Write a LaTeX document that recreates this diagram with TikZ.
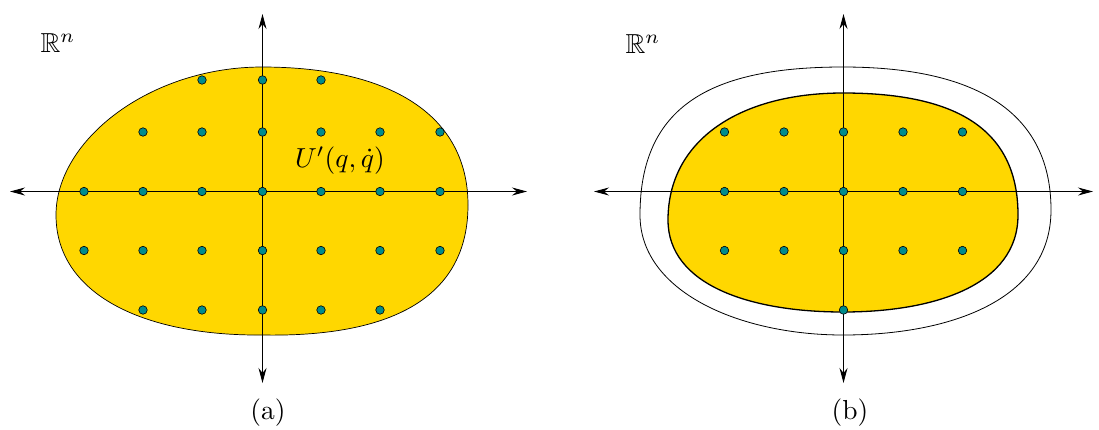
\documentclass[tikz,border=0pt]{standalone}
\usepackage{amssymb}
\usetikzlibrary{arrows.meta}
\definecolor{regiongold}{RGB}{255,215,0}
\definecolor{dotteal}{RGB}{0,140,140}
\tikzset{
  axis/.style={line width=1pt,-{Stealth[length=15pt,width=8pt,inset=5pt]}},
  lattice/.style={circle,fill=dotteal,draw=black,line width=0.6pt,inner sep=0pt,minimum size=8.5pt},
  label/.style={scale=2.75,inner sep=0pt},
  region/.style={fill=regiongold,draw=black,line width=0.7pt},
  innerregion/.style={fill=regiongold,draw=black,line width=1.3pt},
  outerregion/.style={draw=black,line width=0.8pt}
}
\begin{document}
\begin{tikzpicture}[x=1pt,y=-1pt]
\useasboundingbox (0,0) rectangle (1099,429);
% ---------- (a) ----------
\path[region] (262,67) .. controls (390,67) and (468,115) .. (468,205)
  .. controls (468,310) and (370,337) .. (262,335)
  .. controls (145,336) and (56,295) .. (56,215)
  .. controls (56,140) and (150,67) .. (262,67) -- cycle;
\coordinate (aL) at (262.5,191.5);
\coordinate (aW) at (10,191.5);
\coordinate (aE) at (527,191.5);
\coordinate (aN) at (262.5,14);
\coordinate (aS) at (262.5,383);
\draw[axis] (aL) -- (aW);
\draw[axis] (aL) -- (aE);
\draw[axis] (aL) -- (aN);
\draw[axis] (aL) -- (aS);
\foreach \x in {202,262.5,321} \node[lattice] at (\x,80) {};
\foreach \x in {143,202,262.5,321,380,440} \node[lattice] at (\x,132) {};
\foreach \x in {84,143,202,262.5,321,380,440} \node[lattice] at (\x,191.5) {};
\foreach \x in {84,143,202,262.5,321,380,440} \node[lattice] at (\x,250.5) {};
\foreach \x in {143,202,262.5,321,380} \node[lattice] at (\x,310) {};
\node[label] (Ua) at (340,160.5) {$U'(q,\dot q)$};
\node[label] (Ra) at (58,43) {$\mathbb{R}^n$};
\node[label] (capa) at (268,413) {(a)};
% ---------- (b) ----------
\path[outerregion] (843,67) .. controls (965,67) and (1051,105) .. (1051,210)
  .. controls (1051,300) and (950,335) .. (843,335)
  .. controls (740,335) and (640,292) .. (640,215)
  .. controls (640,105) and (712,67) .. (843,67) -- cycle;
\path[innerregion] (843,93) .. controls (950,93) and (1018,125) .. (1018,215)
  .. controls (1018,285) and (935,312) .. (843,312)
  .. controls (750,312) and (668,285) .. (668,220)
  .. controls (668,140) and (740,93) .. (843,93) -- cycle;
\coordinate (bL) at (843.5,191.5);
\coordinate (bW) at (594,191.5);
\coordinate (bE) at (1093,191.5);
\coordinate (bN) at (843.5,14);
\coordinate (bS) at (843.5,383);
\draw[axis] (bL) -- (bW);
\draw[axis] (bL) -- (bE);
\draw[axis] (bL) -- (bN);
\draw[axis] (bL) -- (bS);
\foreach \y in {132,191.5,250.5} \foreach \x in {724.5,784,843.5,903,962.5} \node[lattice] at (\x,\y) {};
\node[lattice] at (843.5,310) {};
\node[label] (Rb) at (643,44) {$\mathbb{R}^n$};
\node[label] (capb) at (850,413) {(b)};
\end{tikzpicture}
\end{document}
